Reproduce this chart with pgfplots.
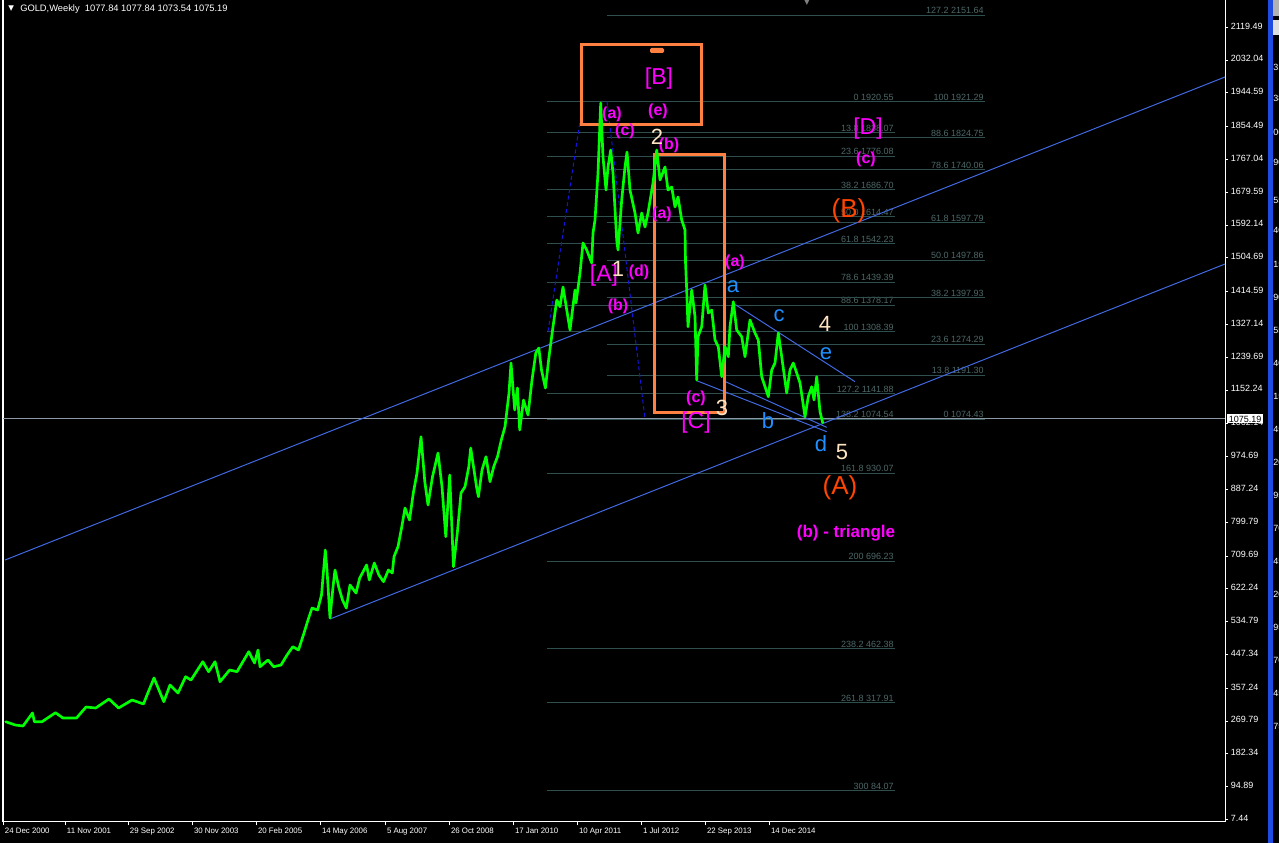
\documentclass[border=0pt]{standalone}
\usepackage{pgfplots}
\pgfplotsset{compat=1.18}
\usepackage{fontspec}
\setmainfont{Liberation Sans}
\newfontfamily\dejavu{DejaVu Sans}
\definecolor{fibline}{RGB}{47,79,79}
\definecolor{fibtext}{RGB}{78,104,104}
\definecolor{chan}{RGB}{65,105,225}
\definecolor{dashb}{RGB}{20,20,220}
\definecolor{boxor}{RGB}{255,128,64}
\definecolor{mag}{RGB}{255,0,255}
\definecolor{cream}{RGB}{255,228,196}
\definecolor{lblue}{RGB}{30,144,255}
\definecolor{ored}{RGB}{255,69,0}
\definecolor{pline}{RGB}{140,152,165}
\definecolor{lime}{RGB}{0,255,0}
\definecolor{winblue}{RGB}{30,75,225}
\newcommand{\fsm}{\fontsize{6.75}{7}\selectfont}
\newcommand{\fa}[2]{\addplot[fibline, line width=0.75pt] coordinates {(547,#2) (895,#2)};
  \node[fibtext, anchor=south east, inner sep=0.8pt, font=\fsm] at (axis cs:895,#2) {#1 #2};}
\newcommand{\fb}[2]{\addplot[fibline, line width=0.75pt] coordinates {(607,#2) (985,#2)};
  \node[fibtext, anchor=south east, inner sep=0.8pt, font=\fsm] at (axis cs:985,#2) {#1 #2};}
\newcommand{\lab}[5]{\node[text=#1, font=\fontsize{#2}{#2}\selectfont#3, inner sep=0pt] at (axis cs:#4) {#5};}
\newcommand{\rn}[2]{\node[anchor=west, text=white, font=\fsm, inner sep=0pt] at (axis cs:1273,#1) {#2};}
\begin{document}
\begin{tikzpicture}
\fill[black] (-2.25pt,-15.75pt) rectangle (957pt,616.5pt);
\begin{axis}[
  at={(0pt,0pt)}, anchor=south west,
  scale only axis, width=916.5pt, height=616.5pt,
  xmin=3, xmax=1225, ymin=0.3, ymax=2192.3,
  axis x line*=bottom, axis y line*=right,
  axis line style={white, line width=0.75pt, -},
  clip=false,
  tick align=outside,
  major tick length=2.5pt,
  every tick/.style={white, line width=0.6pt},
  typeset ticklabels with strut,
  xtick={3,65,128,192,256,320,385,449,513,577,641,705,769},
  xticklabels={24 Dec 2000,11 Nov 2001,29 Sep 2002,30 Nov 2003,20 Feb 2005,14 May 2006,5 Aug 2007,26 Oct 2008,17 Jan 2010,10 Apr 2011,1 Jul 2012,22 Sep 2013,14 Dec 2014},
  xticklabel style={text=white, font=\fontsize{5.9}{7}\selectfont, anchor=north west, inner sep=0.5pt, xshift=0.8pt, yshift=-0.6pt},
  ytick={2119.49,2032.04,1944.59,1854.49,1767.04,1679.59,1592.14,1504.69,1414.59,1327.14,1239.69,1152.24,1062.14,974.69,887.24,799.79,709.69,622.24,534.79,447.34,357.24,269.79,182.34,94.89,7.44},
  yticklabels={2119.49,2032.04,1944.59,1854.49,1767.04,1679.59,1592.14,1504.69,1414.59,1327.14,1239.69,1152.24,1062.14,974.69,887.24,799.79,709.69,622.24,534.79,447.34,357.24,269.79,182.34,94.89,7.44},
  yticklabel style={text=white, font=\fsm, anchor=west, inner sep=0.5pt, xshift=1.2pt},
  /pgf/number format/assume math mode=true,
]
% frame
\addplot[white, line width=1.2pt] coordinates {(3,0.3) (3,2192.3)};
% right window strip
\fill[winblue] (axis cs:1268,-56) rectangle (axis cs:1273,2192.3);
\fill[gray!60] (axis cs:1273,2192.3) rectangle (axis cs:1285,2150);
\fill[gray!25] (axis cs:1273,2140) rectangle (axis cs:1285,2100);
% Fibonacci set 1
\fa{0}{1920.55}
\fa{13.8}{1838.07}
\fa{23.6}{1776.08}
\fa{38.2}{1686.70}
\fa{50.0}{1614.47}
\fa{61.8}{1542.23}
\fa{78.6}{1439.39}
\fa{88.6}{1378.17}
\fa{100}{1308.39}
\fa{127.2}{1141.88}
\fa{138.2}{1074.54}
\fa{161.8}{930.07}
\fa{200}{696.23}
\fa{238.2}{462.38}
\fa{261.8}{317.91}
\fa{300}{84.07}
% Fibonacci set 2
\fb{127.2}{2151.64}
\fb{100}{1921.29}
\fb{88.6}{1824.75}
\fb{78.6}{1740.06}
\fb{61.8}{1597.79}
\fb{50.0}{1497.86}
\fb{38.2}{1397.93}
\fb{23.6}{1274.29}
\fb{13.8}{1191.30}
\fb{0}{1074.43}
% current price line
\addplot[pline, line width=0.75pt] coordinates {(3,1075.19) (1225,1075.19)};
% channel and triangle lines
\addplot[chan, line width=0.75pt] coordinates {(5,698.9) (1225,1987.0)};
\addplot[chan, line width=0.75pt] coordinates {(330,541.6) (1225,1488.3)};
\addplot[chan, line width=0.75pt] coordinates {(733.3,1383.5) (855,1174.4)};
\addplot[chan, line width=0.75pt] coordinates {(696.7,1177.1) (826.7,1041.1)};
\addplot[chan, line width=0.75pt] coordinates {(723.3,1177.1) (826.7,1052.8)};
\addplot[dashb, densely dashed, line width=0.75pt] coordinates {(548,1308.39) (583,1920.55)};
\addplot[dashb, densely dashed, line width=0.75pt] coordinates {(607,1921.29) (645,1074.43)};
% orange boxes
\draw[boxor, line width=2.25pt] (axis cs:581,2072.3) rectangle (axis cs:701,1861.6);
\draw[boxor, line width=2.25pt] (axis cs:654,1781.6) rectangle (axis cs:724,1093.6);
\fill[boxor, rounded corners=1pt] (axis cs:650,2064.3) rectangle (axis cs:664,2051);
% price series
\addplot[lime, line width=2pt, line join=round, line cap=round] table {
x y
5.7 267.7
15.3 258.9
23 256.3
32.5 290.9
34.4 267.7
42 267.7
55.5 291.7
63 277.6
76.5 277.6
86 306.9
95.7 304.3
109 328.3
118.6 304.3
132 325.6
143.5 315.0
147 338.9
154 384.3
163.8 321.1
170 365.6
178 344.3
185.6 387.7
191 378.9
202.8 427.7
208.6 401.1
215 427.7
220 374.4
229.6 405.6
237 401.1
248.8 454.4
254.5 424.3
258 458.9
260 414.4
268 432.3
273.6 414.4
281 418.9
287 445.6
292.8 467.7
298.5 458.9
304 504.3
308 538.9
312 570.9
317.6 565.6
321.5 605.6
325.3 725.6
327 672.3
330 544.3
333 626.9
335 672.3
338.7 626.9
342.5 592.3
346.3 570.9
350 632.3
356 610.9
359.7 650.9
366.6 685.6
369.3 645.6
374.3 690.9
378.9 658.9
383.5 641.1
388.4 672.3
392.3 664.3
394 707.8
398 734.4
401.8 787.8
405 837.6
409.5 805.6
413.3 877.6
417 931.0
421 1027.7
424.8 907.8
428 845.6
432.5 921.1
438 984.3
442 894.4
445.8 761.1
449.7 925.6
453.5 681.1
457.3 770.9
461 877.6
465 894.4
468.8 947.8
470.7 997.6
476.5 894.4
478.4 867.8
482 939.0
486 974.4
490 907.8
493.7 947.8
497.5 974.4
501.3 1019.0
505 1054.4
509 1144.3
511 1224.3
514.7 1099.0
517.4 1157.6
519.7 1045.6
523.5 1125.6
528 1085.6
532 1179.0
535.8 1251.0
538.8 1264.3
541.5 1205.6
545.4 1157.6
549 1241.1
553 1321.1
556.8 1392.3
560 1374.4
563 1427.0
570 1312.3
575 1419.0
576 1384.3
580 1464.3
583 1544.3
586.7 1525.6
591.7 1491.0
593 1571.0
595 1605.6
598 1731.0
600.7 1917.6
603 1773.6
606 1685.6
608 1747.0
610.7 1792.3
613 1731.0
616.7 1552.3
618 1525.6
621.7 1659.0
625 1747.0
627 1787.0
630 1685.6
635 1624.3
638 1571.0
641.7 1624.3
645 1587.0
648 1624.3
653 1704.3
656.7 1792.3
660 1712.3
665 1747.0
668 1685.6
671.7 1693.6
675 1640.3
678 1667.0
681.7 1605.6
685 1579.0
685.5 1494.4
686.7 1419.0
688 1321.1
691.7 1419.0
695 1347.8
696.7 1179.0
698 1294.4
701.7 1321.1
705 1432.3
708.3 1357.6
711.7 1365.6
715 1285.6
718.3 1267.8
721.7 1187.8
725 1267.8
728.3 1241.1
730 1321.1
733.3 1387.8
736.7 1312.3
741.7 1294.4
745 1241.1
750 1339.0
755 1304.3
758.3 1285.6
761.7 1187.8
768.3 1134.4
771.7 1205.6
775 1224.3
778.3 1304.3
781.7 1241.1
786.7 1144.3
790 1205.6
793.3 1224.3
796.7 1197.6
800 1171.0
805 1081.1
808.3 1134.4
811.7 1161.1
814 1125.6
816.7 1187.8
820 1094.4
822.7 1065.1
};
% labels
\lab{mag}{17.25}{}{659,1981.6}{[B]}
\lab{mag}{12}{\bfseries}{658,1896.3}{(e)}
\lab{mag}{12}{\bfseries}{612,1888.3}{(a)}
\lab{mag}{12}{\bfseries}{625,1843}{(c)}
\lab{mag}{12}{\bfseries}{669,1805.6}{(b)}
\lab{mag}{12}{\bfseries}{662,1621.6}{(a)}
\lab{mag}{17.25}{}{604,1456.3}{[A]}
\lab{mag}{12}{\bfseries}{639,1467}{(d)}
\lab{mag}{12}{\bfseries}{618,1376.3}{(b)}
\lab{mag}{12}{\bfseries}{735,1493.6}{(a)}
\lab{mag}{12}{\bfseries}{696,1131}{(c)}
\lab{mag}{17.25}{}{696,1064.3}{[C]}
\lab{mag}{17.25}{}{868,1848.3}{[D]}
\lab{mag}{12}{\bfseries}{866,1768.3}{(c)}
\lab{mag}{12.75}{\bfseries}{846,771}{(b) - triangle}
\lab{cream}{16.5}{}{657,1827}{2}
\lab{cream}{16.5}{}{618,1475}{1}
\lab{cream}{16.5}{}{722,1104.3}{3}
\lab{cream}{16.5}{}{825,1328.3}{4}
\lab{cream}{16.5}{}{842,987}{5}
\lab{lblue}{16.5}{}{733,1427}{a}
\lab{lblue}{16.5}{}{779,1349.6}{c}
\lab{lblue}{16.5}{}{826,1248.3}{e}
\lab{lblue}{16.5}{}{768,1069.6}{b}
\lab{lblue}{16.5}{}{821,1008.3}{d}
\lab{ored}{19.5}{}{849,1629.6}{(B)}
\lab{ored}{19.5}{}{840,891}{(A)}
% header
\node[anchor=west, text=white, font=\dejavu\fontsize{5.5}{6}\selectfont, inner sep=0pt] at (axis cs:8,2168.3) {▼};
\node[anchor=west, text=white, font=\fontsize{7}{7}\selectfont, inner sep=0pt] at (axis cs:20,2168.3) {GOLD,Weekly\ \ 1077.84 1077.84 1073.54 1075.19};
\node[text=gray, font=\dejavu\fontsize{6}{6}\selectfont, inner sep=0pt] at (axis cs:807,2186) {▼};
% current price box
\node[fill=white, text=black, anchor=west, inner xsep=1.5pt, inner ysep=1pt, font=\fsm] at (axis cs:1226.5,1075.19) {1075.19};
% partial numbers of the neighbouring window
\rn{2013}{31}
\rn{1931}{38}
\rn{1838}{06}
\rn{1758}{90}
\rn{1659}{55}
\rn{1579}{40}
\rn{1486}{15}
\rn{1398}{90}
\rn{1310}{55}
\rn{1224}{40}
\rn{1134}{15}
\rn{1046}{45}
\rn{958}{20}
\rn{870}{95}
\rn{784}{70}
\rn{696}{45}
\rn{606}{20}
\rn{520}{95}
\rn{432}{70}
\rn{344}{45}
\rn{256}{75}
\end{axis}
\pgfresetboundingbox
\useasboundingbox (-2.25pt,-15.75pt) rectangle (957pt,616.5pt);
\end{tikzpicture}
\end{document}
